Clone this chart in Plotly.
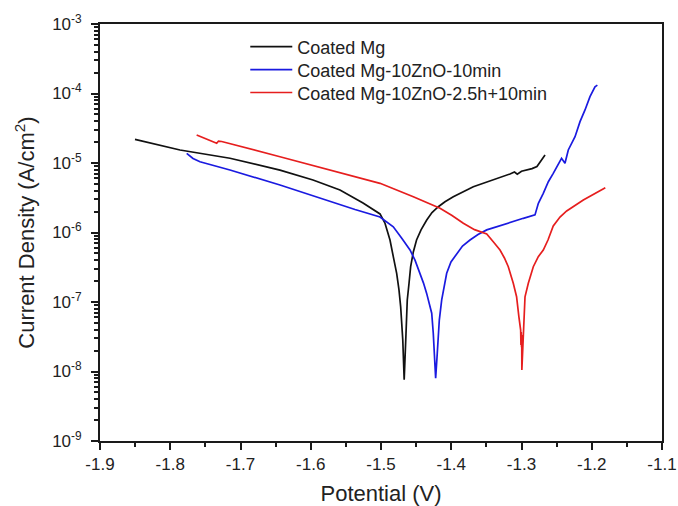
import plotly.graph_objects as go

# Potentiodynamic polarization (Tafel) curves: potential in V, current density in A/cm^2
mg_potential = [-1.8502, -1.7861, -1.715, -1.6438, -1.5968, -1.5584, -1.5256, -1.5014,
                -1.4943, -1.4872, -1.4825, -1.4777, -1.4744, -1.472, -1.469, -1.467,
                -1.4644, -1.4626, -1.4601, -1.4578, -1.454, -1.4494, -1.443, -1.4349,
                -1.4274, -1.4184, -1.4089, -1.3971, -1.3686, -1.3402, -1.3164, -1.310,
                -1.306, -1.300, -1.293, -1.285, -1.278, -1.272, -1.2665]
mg_current = [2.19e-5, 1.54e-5, 1.17e-5, 7.9e-6, 5.69e-6, 4.09e-6, 2.66e-6, 1.85e-6,
              1.36e-6, 7.8e-7, 4.5e-7, 2.59e-7, 1.49e-7, 8.5e-8, 2.84e-8, 7.6e-9,
              3.55e-8, 1.07e-7, 1.86e-7, 3.22e-7, 5.25e-7, 7.8e-7, 1.09e-6, 1.51e-6,
              1.94e-6, 2.35e-6, 2.77e-6, 3.27e-6, 4.56e-6, 5.69e-6, 6.95e-6, 7.4e-6,
              6.9e-6, 7.6e-6, 7.9e-6, 8.3e-6, 8.9e-6, 1.07e-5, 1.30e-5]

zno_potential = [-1.7766, -1.7676, -1.7577, -1.715, -1.6438, -1.5726, -1.537, -1.5014,
                 -1.4825, -1.4707, -1.4587, -1.4516, -1.4445, -1.4395, -1.435, -1.4278,
                 -1.4256, -1.4222, -1.4199, -1.417, -1.4136, -1.4065, -1.4004, -1.3922,
                 -1.384, -1.3733, -1.3619, -1.3495, -1.3211, -1.2974, -1.2808, -1.276,
                 -1.269, -1.2618, -1.2548, -1.2476, -1.243, -1.2381, -1.2334, -1.2238,
                 -1.2167, -1.2096, -1.2025, -1.1954, -1.192]
zno_current = [1.38e-5, 1.16e-5, 1.04e-5, 7.94e-6, 4.82e-6, 2.77e-6, 2.14e-6, 1.67e-6,
               1.21e-6, 8.3e-7, 5.6e-7, 4.0e-7, 2.59e-7, 1.87e-7, 1.33e-7, 6.9e-8,
               3.55e-8, 8.0e-9, 1.83e-8, 5.5e-8, 1.07e-7, 2.59e-7, 3.77e-7, 5.0e-7,
               6.4e-7, 7.8e-7, 9.35e-7, 1.09e-6, 1.36e-6, 1.60e-6, 1.79e-6, 2.63e-6,
               3.66e-6, 5.38e-6, 7.1e-6, 9.9e-6, 1.17e-5, 9.9e-6, 1.54e-5, 2.39e-5,
               3.94e-5, 5.8e-5, 9.0e-5, 1.25e-4, 1.32e-4]

zno25_potential = [-1.7624, -1.7491, -1.7339, -1.7313, -1.7268, -1.6438, -1.5726, -1.5014,
                   -1.454, -1.416, -1.3989, -1.3828, -1.3669, -1.3495, -1.3399, -1.3306,
                   -1.3243, -1.3188, -1.3117, -1.307, -1.3037, -1.3012, -1.3008, -1.3004,
                   -1.2999, -1.2997, -1.2995, -1.2975, -1.2965, -1.2950, -1.2903, -1.2832,
                   -1.2761, -1.269, -1.2623, -1.2548, -1.2452, -1.2357, -1.212, -1.1954,
                   -1.1807]
zno25_current = [2.53e-5, 2.21e-5, 1.92e-5, 2.07e-5, 2.04e-5, 1.23e-5, 7.94e-6, 5.1e-6,
                 3.27e-6, 2.23e-6, 1.76e-6, 1.36e-6, 1.10e-6, 9.5e-7, 7.3e-7, 5.6e-7,
                 4.3e-7, 3.22e-7, 1.86e-7, 1.19e-7, 6.1e-8, 3.95e-8, 2.4e-8, 3.7e-8,
                 2.24e-8, 3.35e-8, 1.05e-8, 2.55e-8, 6.2e-8, 1.19e-7, 1.86e-7, 3.22e-7,
                 4.49e-7, 5.6e-7, 7.8e-7, 1.24e-6, 1.67e-6, 2.04e-6, 2.94e-6, 3.64e-6,
                 4.41e-6]

series_names = ["Coated Mg", "Coated Mg-10ZnO-10min", "Coated Mg-10ZnO-2.5h+10min"]
series_colors = ["#111111", "#1a1ae0", "#e61e1e"]

x_tick_vals = [-1.9, -1.8, -1.7, -1.6, -1.5, -1.4, -1.3, -1.2, -1.1]
x_tick_text = ["-1.9", "-1.8", "-1.7", "-1.6", "-1.5", "-1.4", "-1.3", "-1.2", "-1.1"]
y_exponents = [-9, -8, -7, -6, -5, -4, -3]

# decade ticks carry the labels, the 2..9 positions inside each decade are unlabeled
y_tick_vals, y_tick_text = [], []
for e in y_exponents:
    y_tick_vals.append(10.0 ** e)
    y_tick_text.append(f"10<sup>{e}</sup>")
    if e < y_exponents[-1]:
        for m in range(2, 10):
            y_tick_vals.append(m * 10.0 ** e)
            y_tick_text.append("")
y_decades = [10.0 ** e for e in y_exponents]

FONT = "Arial, 'Liberation Sans', sans-serif"
AXIS_COLOR = "#1a1a1a"
TEXT_COLOR = "#222222"

# one single-entry legend per series, stacked in the upper part of the plot
legend_keys = ["legend", "legend2", "legend3"]
legend_rows = [0.945, 0.890, 0.835]

fig = go.Figure()
for xs, ys, name, color, key in zip(
        [mg_potential, zno_potential, zno25_potential],
        [mg_current, zno_current, zno25_current],
        series_names, series_colors, legend_keys):
    fig.add_trace(go.Scatter(x=xs, y=ys, mode="lines", name=name, legend=key,
                             line=dict(color=color, width=1.7)))

# transparent copy of one point on the companion axis that draws the longer decade ticks
fig.add_trace(go.Scatter(x=mg_potential[:1], y=mg_current[:1], yaxis="y2",
                         mode="markers", marker=dict(opacity=0),
                         showlegend=False, hoverinfo="skip"))

legend_style = dict(x=0.2585, xanchor="left", yanchor="middle",
                    bgcolor="rgba(0,0,0,0)", borderwidth=0, itemwidth=42,
                    font=dict(family=FONT, size=18, color=TEXT_COLOR))

fig.update_layout(
    width=678, height=506,
    margin=dict(l=100, r=16, t=24, b=65),
    paper_bgcolor="white", plot_bgcolor="white",
    font=dict(family=FONT, color=TEXT_COLOR, size=16),
    showlegend=True,
    legend=dict(y=legend_rows[0], **legend_style),
    legend2=dict(y=legend_rows[1], **legend_style),
    legend3=dict(y=legend_rows[2], **legend_style),
)

fig.update_layout(
    xaxis=dict(
        range=[-1.9, -1.1], automargin=False,
        tickmode="array", tickvals=x_tick_vals, ticktext=x_tick_text,
        ticks="outside", ticklen=7, tickwidth=1.8, tickcolor=AXIS_COLOR,
        minor=dict(ticks="outside", ticklen=4, tickwidth=1.6, tickcolor=AXIS_COLOR,
                   tick0=-1.9, dtick=0.05, showgrid=False),
        showline=True, linecolor=AXIS_COLOR, linewidth=1.9, mirror=True,
        showgrid=False, zeroline=False,
        tickfont=dict(family=FONT, size=17, color=TEXT_COLOR),
        title=dict(text="Potential (V)", standoff=13,
                   font=dict(family=FONT, size=22, color=TEXT_COLOR)),
    ),
    yaxis=dict(
        type="log", range=[-9, -3], automargin=False,
        tickmode="array", tickvals=y_tick_vals, ticktext=y_tick_text,
        ticks="outside", ticklen=4, tickwidth=1.5, tickcolor=AXIS_COLOR,
        ticklabelstandoff=9,
        showline=True, linecolor=AXIS_COLOR, linewidth=1.9, mirror=True,
        showgrid=False, zeroline=False,
        tickfont=dict(family=FONT, size=17, color=TEXT_COLOR),
        title=dict(text="Current Density (A/cm<sup>2</sup>)", standoff=11,
                   font=dict(family=FONT, size=22, color=TEXT_COLOR)),
    ),
    # companion axis with the full-length decade ticks
    yaxis2=dict(
        type="log", range=[-9, -3], overlaying="y", side="left", anchor="x",
        automargin=False,
        tickmode="array", tickvals=y_decades,
        ticks="outside", ticklen=8, tickwidth=1.8, tickcolor=AXIS_COLOR,
        showticklabels=False, showline=False, showgrid=False, zeroline=False,
    ),
)

fig.write_html("out.html")
